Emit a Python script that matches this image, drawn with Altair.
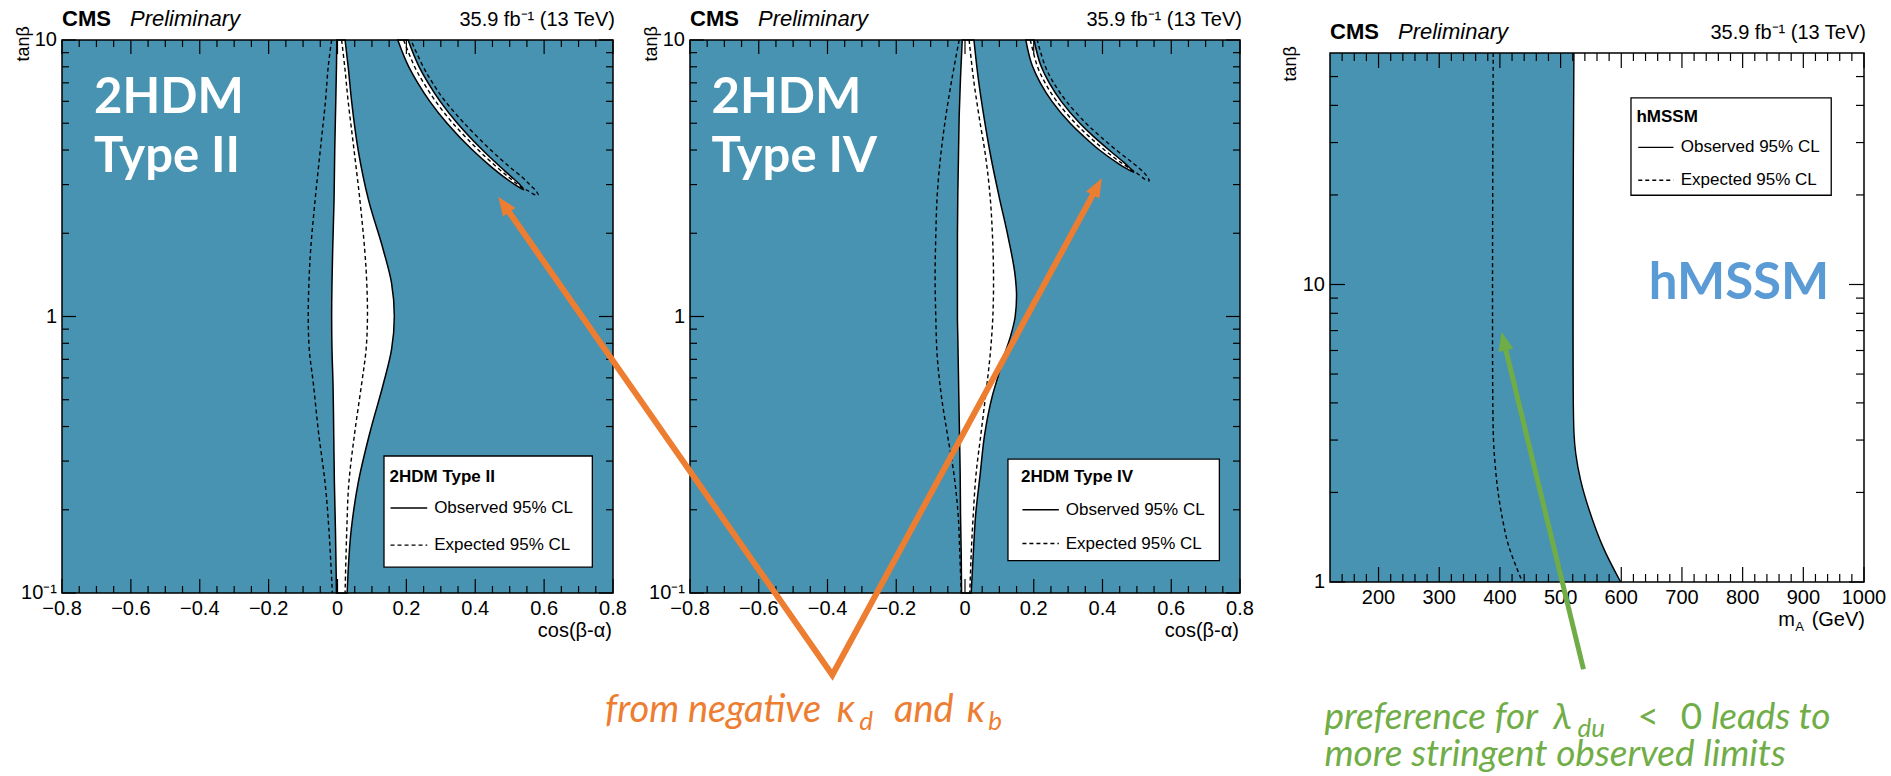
import altair as alt
import pandas as pd

W, H = 1891, 776

TEAL = "#4893b1"
ORANGE = "#ed7d31"
GREEN = "#70ad47"
HMSSM_BLUE = "#5b9bd5"
ROOT_FONT = "Liberation Sans"
SLIDE_FONT = "Lato"

# ---------------------------------------------------------------- axis ticks and labels
cos_major = [-0.8, -0.6, -0.4, -0.2, 0.0, 0.2, 0.4, 0.6, 0.8]
cos_labels = ["−0.8", "−0.6", "−0.4", "−0.2", "0", "0.2", "0.4", "0.6", "0.8"]
cos_minor = [-0.75, -0.7, -0.65, -0.55, -0.5, -0.45, -0.35, -0.3, -0.25, -0.15, -0.1, -0.05,
             0.05, 0.1, 0.15, 0.25, 0.3, 0.35, 0.45, 0.5, 0.55, 0.65, 0.7, 0.75]
tb_major = [0.1, 1, 10]
tb_labels = ["10⁻¹", "1", "10"]
tb_minor = [0.2, 0.3, 0.4, 0.5, 0.6, 0.7, 0.8, 0.9, 2, 3, 4, 5, 6, 7, 8, 9]
ma_major = [200, 300, 400, 500, 600, 700, 800, 900, 1000]
ma_labels = ["200", "300", "400", "500", "600", "700", "800", "900", "1000"]
ma_minor = [140, 160, 180, 220, 240, 260, 280, 320, 340, 360, 380, 420, 440, 460, 480,
            520, 540, 560, 580, 620, 640, 660, 680, 720, 740, 760, 780, 820, 840, 860, 880,
            920, 940, 960, 980]
tbh_major = [1, 10]
tbh_labels = ["1", "10"]
tbh_minor = [2, 3, 4, 5, 6, 7, 8, 9, 20, 30, 40, 50]

# ---------------------------------------------------------------- 2HDM Type II
t2_tb = [10, 8, 6, 4, 2.64, 1.74, 1.32, 1.0, 0.76, 0.57, 0.38, 0.25, 0.17, 0.1]
t2_obs_lo = [-0.002, -0.003, -0.005, -0.008, -0.010, -0.014, -0.016, -0.017, -0.016, -0.013,
             -0.011, -0.009, -0.006, -0.003]
t2_obs_hi = [0.022, 0.031, 0.041, 0.060, 0.090, 0.133, 0.157, 0.165, 0.157, 0.133, 0.094,
             0.060, 0.040, 0.028]
t2_exp_lo = [-0.017, -0.027, -0.035, -0.050, -0.065, -0.078, -0.083, -0.085, -0.082, -0.070,
             -0.055, -0.036, -0.025, -0.015]
t2_exp_hi = [0.012, 0.021, 0.031, 0.048, 0.065, 0.079, 0.085, 0.087, 0.083, 0.070, 0.050,
             0.033, 0.027, 0.022]
# wrong-sign arm
t2_arc_tb = [10, 8, 7, 6, 5, 4, 3.5, 3.2, 3.0, 2.87]
t2_arc_lo = [0.175, 0.207, 0.233, 0.268, 0.318, 0.392, 0.444, 0.483, 0.515, 0.541]
t2_arc_hi = [0.205, 0.237, 0.263, 0.298, 0.348, 0.421, 0.470, 0.505, 0.529, 0.541]
t2_arcexp_tb = [10, 8, 7, 6, 5, 4, 3.5, 3.2, 3.0, 2.85, 2.75]
t2_arcexp_in = [0.192, 0.224, 0.250, 0.285, 0.335, 0.409, 0.459, 0.496, 0.524, 0.553, 0.575]
t2_arcexp_out = [0.213, 0.249, 0.276, 0.313, 0.368, 0.445, 0.497, 0.535, 0.558, 0.576, 0.583]

# ---------------------------------------------------------------- 2HDM Type IV
t4_tb = [10, 7.35, 5.28, 3.79, 2.72, 1.95, 1.40, 1.19, 1.0, 0.853, 0.723, 0.612, 0.519,
         0.44, 0.373, 0.268, 0.192, 0.138, 0.1]
t4_obs_lo = [-0.008, -0.013, -0.017, -0.019, -0.021, -0.022, -0.022, -0.022, -0.022, -0.021,
             -0.020, -0.019, -0.018, -0.017, -0.016, -0.014, -0.013, -0.011, -0.010]
t4_obs_hi = [0.026, 0.038, 0.055, 0.075, 0.099, 0.125, 0.146, 0.150, 0.146, 0.133, 0.114,
             0.097, 0.080, 0.067, 0.057, 0.044, 0.031, 0.024, 0.018]
t4_exp_tb = [10, 7.35, 5.28, 3.79, 2.72, 1.95, 1.40, 1.0, 0.723, 0.519, 0.373, 0.268, 0.192,
             0.138, 0.1]
t4_exp_lo = [-0.017, -0.037, -0.056, -0.071, -0.081, -0.085, -0.087, -0.085, -0.081, -0.069,
             -0.051, -0.032, -0.020, -0.015, -0.011]
t4_exp_hi = [0.012, 0.024, 0.041, 0.060, 0.073, 0.080, 0.083, 0.081, 0.073, 0.060, 0.046,
             0.032, 0.024, 0.018, 0.014]
t4_arc_tb = [10, 8, 7, 6, 5, 4.5, 4, 3.6, 3.45, 3.32]
t4_arc_lo = [0.177, 0.197, 0.219, 0.253, 0.306, 0.344, 0.391, 0.442, 0.466, 0.492]
t4_arc_hi = [0.201, 0.222, 0.245, 0.280, 0.334, 0.372, 0.419, 0.463, 0.479, 0.492]
t4_arcexp_tb = [10, 8, 7, 6, 5, 4.5, 4, 3.6, 3.3, 3.1]
t4_arcexp_in = [0.190, 0.211, 0.233, 0.267, 0.321, 0.359, 0.406, 0.454, 0.500, 0.530]
t4_arcexp_out = [0.210, 0.234, 0.258, 0.295, 0.352, 0.392, 0.440, 0.487, 0.522, 0.536]

# ---------------------------------------------------------------- hMSSM
h_obs_tb = [60, 3.2, 2.7, 2.2, 1.75, 1.31, 1.0]
h_obs_ma = [522, 522, 525, 533, 547, 570, 599]
h_exp_tb = [60, 3.2, 2.5, 2.0, 1.6, 1.31, 1.0]
h_exp_ma = [389, 389, 392, 397, 405, 415, 437]

# ---------------------------------------------------------------- call-outs
orange_x = [-1.3376, -0.386, 0.3811]          # Type IV coordinates
orange_tb = [2.499, 0.0505, 2.895]
orange_head_x = [-1.3577, 0.398]
orange_head_tb = [2.713, 3.16]
orange_head_angle = [325.1, 28.5]
green_ma = [537.7, 407.2]
green_tb = [0.509, 6.34]
green_head_ma = [402.6]
green_head_tb = [6.94]
green_head_angle = [346.4]

# ---------------------------------------------------------------- layout
COS_DOM = (-0.8, 0.8)
TB_DOM = (0.1, 10)
MA_DOM = (120, 1000)
TBH_DOM = (1, 60)
GEO_II = dict(xr=(62, 613), yr=(593, 40))
GEO_IV = dict(xr=(690, 1240), yr=(593, 40))
GEO_H = dict(xr=(1330, 1864), yr=(582, 53))
ARROW_PATH = "M0,0L-0.75,1.9L0.75,1.9Z"
# anchor of the rotated tanβ titles (upper end of the text)
TITLE_2HDM = (-0.9103, 11.23)
TITLE_HMSSM = (55.7, 63.3)


def make_scales(xdom, ydom, geo):
    xs = alt.Scale(domain=list(xdom), range=list(geo["xr"]), nice=False, zero=False)
    ys = alt.Scale(type="log", domain=list(ydom), range=list(geo["yr"]), nice=False)
    return xs, ys


def enc(xs, ys, x, y):
    return dict(x=alt.X(x, scale=xs, axis=None), y=alt.Y(y, scale=ys, axis=None))


def box(xs, ys, x0, x1, y0, y1, **mk):
    df = pd.DataFrame({"x0": [x0], "x1": [x1], "y0": [y0], "y1": [y1]})
    return alt.Chart(df).mark_rect(**mk).encode(
        x=alt.X("x0:Q", scale=xs, axis=None), x2="x1",
        y=alt.Y("y0:Q", scale=ys, axis=None), y2="y1")


def ticks(xs, ys, xdom, ydom, xmaj, xmin, ymaj, ymin, big=14, small=7):
    out = []
    rule = dict(color="black", strokeWidth=1.2)
    for vals, L in ((xmaj, big), (xmin, small)):
        d = alt.Chart(pd.DataFrame({"v": vals}))
        for edge, sgn in ((ydom[0], -1), (ydom[1], 1)):
            out.append(d.mark_rule(y2Offset=sgn * L, **rule).encode(
                x=alt.X("v:Q", scale=xs, axis=None),
                y=alt.YDatum(edge, scale=ys, axis=None), y2=alt.Y2Datum(edge)))
    for vals, L in ((ymaj, big), (ymin, small)):
        d = alt.Chart(pd.DataFrame({"v": vals}))
        for edge, sgn in ((xdom[0], 1), (xdom[1], -1)):
            out.append(d.mark_rule(x2Offset=sgn * L, **rule).encode(
                y=alt.Y("v:Q", scale=ys, axis=None),
                x=alt.XDatum(edge, scale=xs, axis=None), x2=alt.X2Datum(edge)))
    return out


def tick_labels(xs, ys, xdom, ydom, xv, xt, yv, yt, title_at):
    common = dict(font=ROOT_FONT, fontSize=20, color="black")
    return [
        alt.Chart(pd.DataFrame({"v": xv, "t": xt})).mark_text(
            align="center", baseline="top", dy=6, **common).encode(
            x=alt.X("v:Q", scale=xs, axis=None),
            y=alt.YDatum(ydom[0], scale=ys, axis=None), text="t:N"),
        alt.Chart(pd.DataFrame({"v": yv, "t": yt})).mark_text(
            align="right", baseline="middle", dx=-5, **common).encode(
            y=alt.Y("v:Q", scale=ys, axis=None),
            x=alt.XDatum(xdom[0], scale=xs, axis=None), text="t:N"),
        alt.Chart(pd.DataFrame({"k": [0]})).mark_text(
            text="tanβ", angle=270, align="right", baseline="middle", font=ROOT_FONT,
            fontSize=18, color="black").encode(
            x=alt.XDatum(title_at[0], scale=xs, axis=None),
            y=alt.YDatum(title_at[1], scale=ys, axis=None)),
    ]


def region(xs, ys, tb, lo, hi, fill, stroke="black"):
    df = pd.DataFrame({"tb": tb, "lo": lo, "hi": hi})
    return alt.Chart(df).mark_area(orient="horizontal", interpolate="monotone", fill=fill,
                                   stroke=stroke, strokeWidth=1.5).encode(
        y=alt.Y("tb:Q", scale=ys, axis=None), x=alt.X("lo:Q", scale=xs, axis=None), x2="hi")


def curves(xs, ys, xv, yv, gv, dashed=True):
    df = pd.DataFrame({"x": xv, "y": yv, "g": gv, "i": list(range(len(xv)))})
    mk = dict(interpolate="catmull-rom", color="black", strokeWidth=1.4)
    if dashed:
        mk["strokeDash"] = [4, 3]
    return alt.Chart(df).mark_line(**mk).encode(
        detail="g:N", order="i:Q", **enc(xs, ys, "x:Q", "y:Q"))


def texts(xs, ys, xv, yv, tv, **mk):
    df = pd.DataFrame({"x": xv, "y": yv, "t": tv})
    return alt.Chart(df).mark_text(**mk).encode(text="t:N", **enc(xs, ys, "x:Q", "y:Q"))


def header(xs, ys, xdom, ydom):
    one = pd.DataFrame({"k": [0]})
    at_left = dict(x=alt.XDatum(xdom[0], scale=xs, axis=None),
                   y=alt.YDatum(ydom[1], scale=ys, axis=None))
    at_right = dict(x=alt.XDatum(xdom[1], scale=xs, axis=None),
                    y=alt.YDatum(ydom[1], scale=ys, axis=None))
    return [
        alt.Chart(one).mark_text(text="CMS", font=ROOT_FONT, fontWeight="bold", fontSize=22,
                                 align="left", baseline="alphabetic", dy=-14,
                                 color="black").encode(**at_left),
        alt.Chart(one).mark_text(text="Preliminary", font=ROOT_FONT, fontStyle="italic",
                                 fontSize=22, align="left", baseline="alphabetic", dx=68,
                                 dy=-14, color="black").encode(**at_left),
        alt.Chart(one).mark_text(text="35.9 fb⁻¹ (13 TeV)", font=ROOT_FONT, fontSize=20,
                                 align="right", baseline="alphabetic", dx=2, dy=-14,
                                 color="black").encode(**at_right),
    ]


def legend(xs, ys, frame_box, title_xy, sample_x, rows, text_x, title):
    out = [box(xs, ys, *frame_box, fill="white", stroke="black", strokeWidth=1.3)]
    out.append(texts(xs, ys, [title_xy[0]], [title_xy[1]], [title], font=ROOT_FONT,
                     fontWeight="bold", fontSize=17, align="left", baseline="middle",
                     color="black"))
    for row, dash in zip(rows, (None, [4, 3])):
        sdf = pd.DataFrame({"x0": [sample_x[0]], "x1": [sample_x[1]], "y": [row]})
        mk = dict(color="black", strokeWidth=1.4)
        if dash:
            mk["strokeDash"] = dash
        out.append(alt.Chart(sdf).mark_rule(**mk).encode(
            x=alt.X("x0:Q", scale=xs, axis=None), x2="x1",
            y=alt.Y("y:Q", scale=ys, axis=None)))
    out.append(texts(xs, ys, [text_x, text_x], list(rows),
                     ["Observed 95% CL", "Expected 95% CL"], font=ROOT_FONT, fontSize=17,
                     align="left", baseline="middle", color="black"))
    return out


def arrow_heads(xs, ys, xv, yv, av, color):
    df = pd.DataFrame({"x": xv, "y": yv, "a": av})
    return alt.Chart(df).mark_point(shape=ARROW_PATH, size=400, filled=True, fill=color,
                                    strokeWidth=0, opacity=1).encode(
        angle=alt.Angle("a:Q", scale=None), **enc(xs, ys, "x:Q", "y:Q"))


def hdm_panel(geo, tb, olo, ohi, etb, elo, ehi, atb, alo, ahi, aetb, ain, aout,
              type_label, label_x, legend_title, leg, extra):
    xs, ys = make_scales(COS_DOM, TB_DOM, geo)
    n = len(etb)
    arc_x = list(ain) + list(aout)[::-1]
    arc_y = list(aetb) + list(aetb)[::-1]
    layers = [
        box(xs, ys, COS_DOM[0], COS_DOM[1], TB_DOM[0], TB_DOM[1], fill=TEAL, strokeWidth=0),
        region(xs, ys, tb, olo, ohi, "white"),
        region(xs, ys, atb, alo, ahi, "white"),
        curves(xs, ys, list(elo) + list(ehi), list(etb) * 2, ["l"] * n + ["r"] * n),
        curves(xs, ys, arc_x, arc_y, ["a"] * len(arc_x)),
    ]
    layers += ticks(xs, ys, COS_DOM, TB_DOM, cos_major, cos_minor, tb_major, tb_minor)
    layers.append(box(xs, ys, COS_DOM[0], COS_DOM[1], TB_DOM[0], TB_DOM[1],
                      fillOpacity=0, stroke="black", strokeWidth=1.5))
    layers += tick_labels(xs, ys, COS_DOM, TB_DOM, cos_major, cos_labels, tb_major, tb_labels,
                          TITLE_2HDM)
    layers.append(alt.Chart(pd.DataFrame({"k": [0]})).mark_text(
        text="cos(β-α)", font=ROOT_FONT, fontSize=20, color="black", align="right",
        baseline="alphabetic", dx=-1, dy=44).encode(
        x=alt.XDatum(COS_DOM[1], scale=xs, axis=None),
        y=alt.YDatum(TB_DOM[0], scale=ys, axis=None)))
    layers += legend(xs, ys, *leg, legend_title)
    layers += header(xs, ys, COS_DOM, TB_DOM)
    layers.append(texts(xs, ys, [label_x, label_x], [5.45, 3.33], ["2HDM", type_label],
                        font=SLIDE_FONT, fontWeight="bold", fontSize=49, align="left",
                        baseline="alphabetic", color="white"))
    layers += extra(xs, ys)
    return alt.layer(*layers)


def type_iv_callout(xs, ys):
    line = pd.DataFrame({"x": orange_x, "y": orange_tb, "i": [0, 1, 2]})
    italic = dict(font=SLIDE_FONT, fontStyle="italic", align="left", baseline="alphabetic",
                  color=ORANGE)
    return [
        alt.Chart(line).mark_line(color=ORANGE, strokeWidth=6, strokeJoin="miter",
                                  strokeCap="butt").encode(order="i:Q",
                                                           **enc(xs, ys, "x:Q", "y:Q")),
        arrow_heads(xs, ys, orange_head_x, orange_head_tb, orange_head_angle, ORANGE),
        texts(xs, ys, [-1.0473, -0.3732, -0.2065, 0.005], [0.03417] * 4,
              ["from negative", "κ", "and", "κ"], fontSize=38, **italic),
        texts(xs, ys, [-0.3075, 0.0678], [0.03196, 0.03196], ["d", "b"], fontSize=26,
              **italic),
    ]


leg_ii = ((0.135, 0.740, 0.124, 0.313), (0.151, 0.262), (0.154, 0.2605), (0.203, 0.149),
          0.2806)
leg_iv = ((0.125, 0.740, 0.131, 0.305), (0.163, 0.262), (0.167, 0.273), (0.200, 0.151),
          0.293)

p_ii = hdm_panel(GEO_II, t2_tb, t2_obs_lo, t2_obs_hi, t2_tb, t2_exp_lo, t2_exp_hi,
                 t2_arc_tb, t2_arc_lo, t2_arc_hi, t2_arcexp_tb, t2_arcexp_in, t2_arcexp_out,
                 "Type II", -0.707, "2HDM Type II", leg_ii, lambda xs, ys: [])
p_iv = hdm_panel(GEO_IV, t4_tb, t4_obs_lo, t4_obs_hi, t4_exp_tb, t4_exp_lo, t4_exp_hi,
                 t4_arc_tb, t4_arc_lo, t4_arc_hi, t4_arcexp_tb, t4_arcexp_in, t4_arcexp_out,
                 "Type IV", -0.7375, "2HDM Type IV", leg_iv, type_iv_callout)

# ---------------------------------------------------------------- hMSSM panel
xs3, ys3 = make_scales(MA_DOM, TBH_DOM, GEO_H)
excl = pd.DataFrame({"tb": h_obs_tb, "lo": [MA_DOM[0]] * len(h_obs_tb), "hi": h_obs_ma})
h_layers = [
    alt.Chart(excl).mark_area(orient="horizontal", interpolate="monotone", fill=TEAL,
                              strokeWidth=0).encode(
        y=alt.Y("tb:Q", scale=ys3, axis=None), x=alt.X("lo:Q", scale=xs3, axis=None),
        x2="hi"),
    curves(xs3, ys3, h_obs_ma, h_obs_tb, ["o"] * len(h_obs_ma), dashed=False),
    curves(xs3, ys3, h_exp_ma, h_exp_tb, ["e"] * len(h_exp_ma)),
]
h_layers += ticks(xs3, ys3, MA_DOM, TBH_DOM, ma_major, ma_minor, tbh_major, tbh_minor,
                  big=15, small=8)
h_layers.append(box(xs3, ys3, MA_DOM[0], MA_DOM[1], TBH_DOM[0], TBH_DOM[1],
                    fillOpacity=0, stroke="black", strokeWidth=1.5))
h_layers += tick_labels(xs3, ys3, MA_DOM, TBH_DOM, ma_major, ma_labels, tbh_major,
                        tbh_labels, TITLE_HMSSM)
h_layers += legend(xs3, ys3, (616, 946, 19.95, 42.4), (625, 36.6), (628, 686),
                   (28.9, 22.4), 698, "hMSSM")
h_layers += header(xs3, ys3, MA_DOM, TBH_DOM)
one = pd.DataFrame({"k": [0]})
corner = dict(x=alt.XDatum(MA_DOM[1], scale=xs3, axis=None),
              y=alt.YDatum(TBH_DOM[0], scale=ys3, axis=None))
green_italic = dict(font=SLIDE_FONT, fontStyle="italic", align="left",
                    baseline="alphabetic", color=GREEN)
h_layers += [
    alt.Chart(one).mark_text(text="(GeV)", font=ROOT_FONT, fontSize=20, align="right",
                             baseline="alphabetic", dx=1, dy=44, color="black").encode(**corner),
    alt.Chart(one).mark_text(text="A", font=ROOT_FONT, fontSize=13, align="right",
                             baseline="alphabetic", dx=-60, dy=49, color="black").encode(**corner),
    alt.Chart(one).mark_text(text="m", font=ROOT_FONT, fontSize=20, align="right",
                             baseline="alphabetic", dx=-69, dy=44, color="black").encode(**corner),
    texts(xs3, ys3, [794], [8.94], ["hMSSM"], font=SLIDE_FONT, fontWeight="bold",
          fontSize=51, align="center", baseline="alphabetic", color=HMSSM_BLUE),
    alt.Chart(pd.DataFrame({"x": green_ma, "y": green_tb, "i": [0, 1]})).mark_line(
        color=GREEN, strokeWidth=5, strokeCap="butt").encode(
        order="i:Q", **enc(xs3, ys3, "x:Q", "y:Q")),
    arrow_heads(xs3, ys3, green_head_ma, green_head_tb, green_head_angle, GREEN),
    texts(xs3, ys3, [110.9, 488.0, 747.7, 110.9], [0.3206, 0.3206, 0.3206, 0.2407],
          ["preference for", "λ", "leads to", "more stringent observed limits"],
          fontSize=37, **green_italic),
    texts(xs3, ys3, [626.6, 697.9], [0.3206, 0.3206], ["<", "0"], font=SLIDE_FONT,
          fontSize=37, align="left", baseline="alphabetic", color=GREEN),
    texts(xs3, ys3, [528.0], [0.3013], ["du"], fontSize=26, **green_italic),
]
p_h = alt.layer(*h_layers)

chart = alt.layer(p_ii, p_iv, p_h).resolve_scale(x="independent", y="independent").properties(
    width=W, height=H, padding=0, background="white",
    autosize=alt.AutoSizeParams(type="none"),
).configure_view(stroke=None)

chart.save("out.html", embed_options={"renderer": "svg", "actions": False})
